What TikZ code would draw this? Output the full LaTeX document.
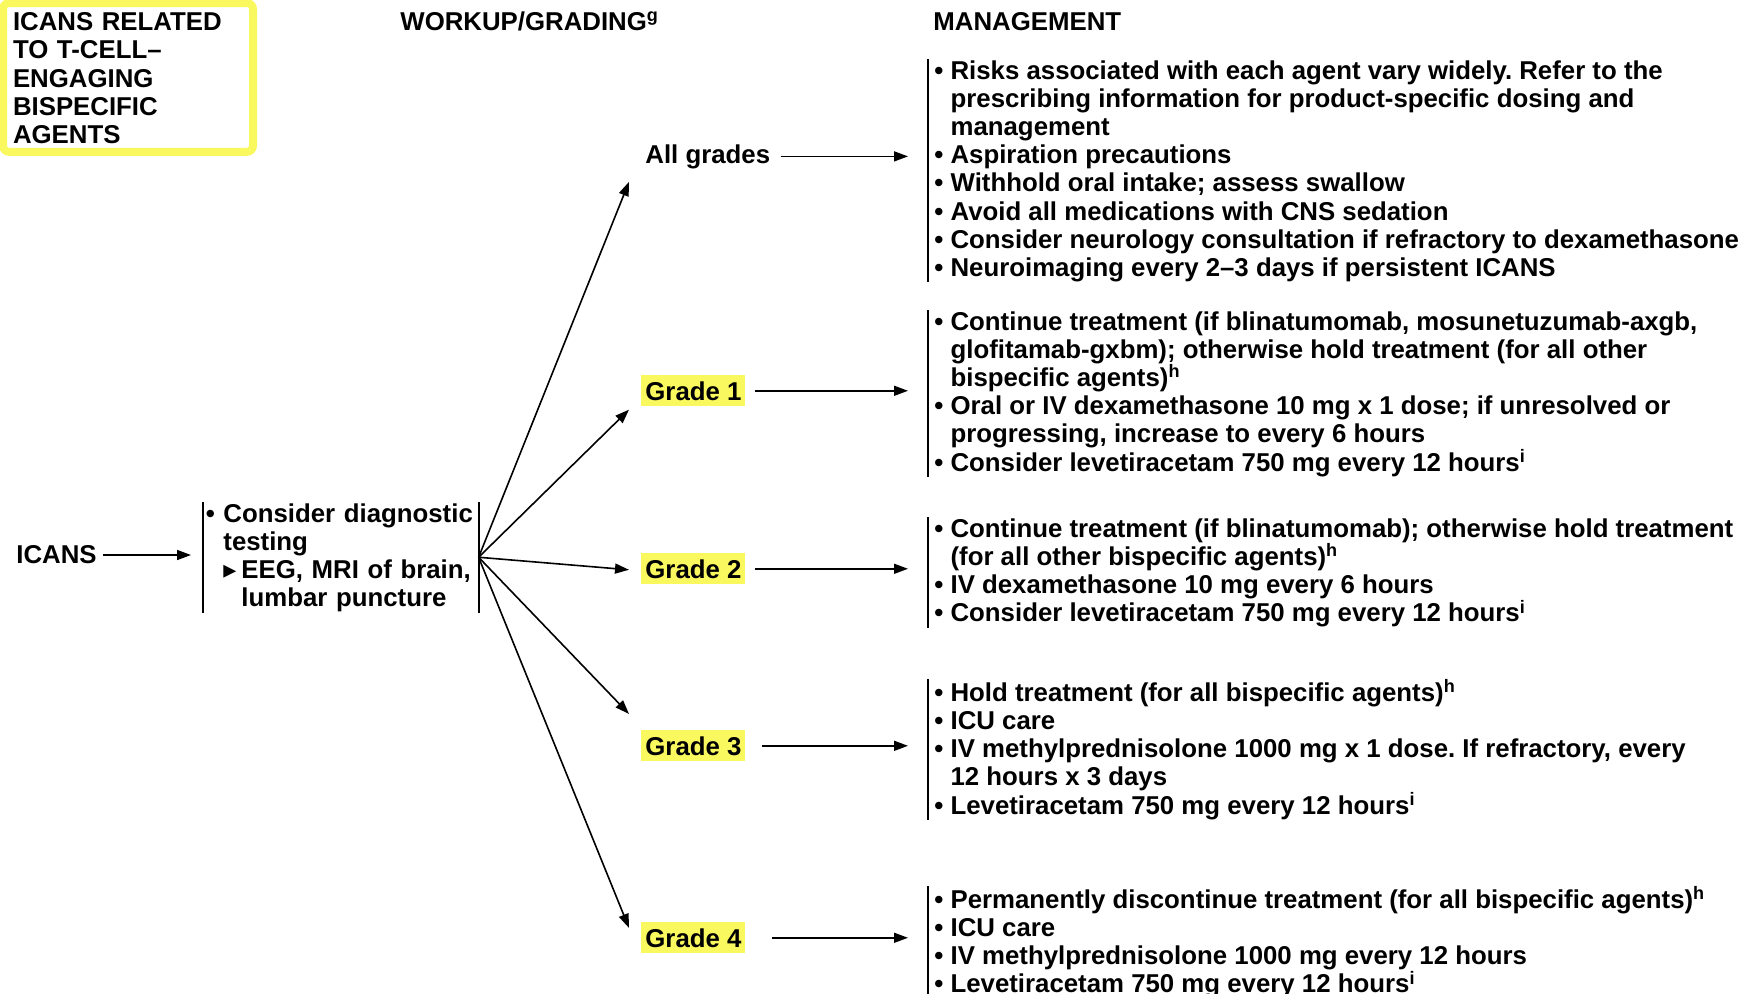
\documentclass[tikz,border=0pt]{standalone}
\usepackage{fontspec}
\setmainfont{Liberation Sans}
\newfontfamily\dejavu{DejaVu Sans}
\usetikzlibrary{arrows.meta,calc}
\definecolor{hly}{RGB}{250,248,95}
\newcommand\bu{•\ }
\newcommand\ind{\hphantom{•\ }}
\newcommand\tri{\makebox[9pt][l]{\dejavu\fontsize{13}{10}\selectfont ▸}}
\begin{document}
\lineskiplimit=-100pt
\hyphenpenalty=10000
\frenchspacing
\begin{tikzpicture}[x=0.5pt,y=-0.5pt,
  every node/.style={font=\fontsize{12.9}{14.1}\selectfont\bfseries, inner sep=0pt},
  hdr/.style={anchor=base west},
  mgmt/.style={anchor=north west, align=left, inner xsep=3pt, inner ysep=0pt},
  grade/.style={anchor=base west, inner xsep=2pt, inner ysep=3pt},
  hl/.style={grade, fill=hly},
  arr/.style={-{Triangle[length=7pt,width=5pt]}, line width=0.8pt},
  brk/.style={line width=1pt}]
\useasboundingbox (0,0) rectangle (1742,993);

% title
\node[anchor=north west, draw=hly, line width=4pt, rounded corners=3pt,
      text width=115pt, align=left, inner xsep=5pt, inner ysep=4pt] (title) at (-1,-1)
  {\strut ICANS RELATED\\ TO T-CELL–\\ ENGAGING\\ BISPECIFIC\\ AGENTS};

% headers
\node[hdr] (hwork) at (400,30) {WORKUP/GRADING\textsuperscript{g}};
\node[hdr] (hman) at (933,30) {MANAGEMENT};

% left
\node[anchor=west] (icans) at (16,555) {ICANS};
\node[anchor=north west, align=left, text width=135pt, inner xsep=1.2pt, inner ysep=0pt] (wk) at (203,502)
  {\strut\bu Consider diagnostic\\ \ind testing\\ \ind\tri EEG, MRI of brain,\\ \ind\hphantom{\tri}lumbar puncture};
\draw[brk] (wk.north west) -- (wk.south west);
\draw[brk] (wk.north east) -- (wk.south east);
\draw[arr, shorten <=3pt, shorten >=6pt] (icans.east) -- (icans.east -| wk.west);

% grades
\node[grade] (gA) at (641,163) {All grades};
\node[hl] (g1) at (641,400) {Grade 1};
\node[hl] (g2) at (641,578) {Grade 2};
\node[hl] (g3) at (641,755) {Grade 3};
\node[hl] (g4) at (641,947) {Grade 4};

\draw[arr] (wk.east) -- ([shift={(-12,7)}]gA.south west);
\draw[arr] (wk.east) -- ([shift={(-12,3)}]g1.south west);
\draw[arr] (wk.east) -- ([shift={(-12,1)}]g2.west);
\draw[arr] (wk.east) -- ([shift={(-12,-16)}]g3.north west);
\draw[arr] (wk.east) -- ([shift={(-12,6)}]g4.north west);

% management
\node[mgmt] (mA) at (928,59) {\strut\bu Risks associated with each agent vary widely. Refer to the\\
  \ind prescribing information for product-specific dosing and\\
  \ind management\\
  \bu Aspiration precautions\\
  \bu Withhold oral intake; assess swallow\\
  \bu Avoid all medications with CNS sedation\\
  \bu Consider neurology consultation if refractory to dexamethasone\\
  \bu Neuroimaging every 2–3 days if persistent ICANS};
\node[mgmt] (m1) at (928,310) {\strut\bu Continue treatment (if blinatumomab, mosunetuzumab-axgb,\\
  \ind glofitamab-gxbm); otherwise hold treatment (for all other\\
  \ind bispecific agents)\textsuperscript{h}\\
  \bu Oral or IV dexamethasone 10 mg x 1 dose; if unresolved or\\
  \ind progressing, increase to every 6 hours\\
  \bu Consider levetiracetam 750 mg every 12 hours\textsuperscript{i}};
\node[mgmt] (m2) at (928,517) {\strut\bu Continue treatment (if blinatumomab); otherwise hold treatment\\
  \ind (for all other bispecific agents)\textsuperscript{h}\\
  \bu IV dexamethasone 10 mg every 6 hours\\
  \bu Consider levetiracetam 750 mg every 12 hours\textsuperscript{i}};
\node[mgmt] (m3) at (928,679) {\strut\bu Hold treatment (for all bispecific agents)\textsuperscript{h}\\
  \bu ICU care\\
  \bu IV methylprednisolone 1000 mg x 1 dose. If refractory, every\\
  \ind 12 hours x 3 days\\
  \bu Levetiracetam 750 mg every 12 hours\textsuperscript{i}};
\node[mgmt] (m4) at (928,886) {\strut\bu Permanently discontinue treatment (for all bispecific agents)\textsuperscript{h}\\
  \bu ICU care\\
  \bu IV methylprednisolone 1000 mg every 12 hours\\
  \bu Levetiracetam 750 mg every 12 hours\textsuperscript{i}};

\foreach \m in {mA,m1,m2,m3,m4}{\draw[brk] (\m.north west) -- (\m.south west);}

\draw[arr, shorten <=3pt, shorten >=10pt] (gA.east) -- (gA.east -| mA.west);
\draw[arr, shorten <=4.5pt, shorten >=10pt] (g1.east) -- (g1.east -| m1.west);
\draw[arr, shorten <=4.5pt, shorten >=10pt] (g2.east) -- (g2.east -| m2.west);
\draw[arr, shorten <=8pt, shorten >=10pt] (g3.east) -- (g3.east -| m3.west);
\draw[arr, shorten <=13pt, shorten >=10pt] (g4.east) -- (g4.east -| m4.west);
\end{tikzpicture}
\end{document}
